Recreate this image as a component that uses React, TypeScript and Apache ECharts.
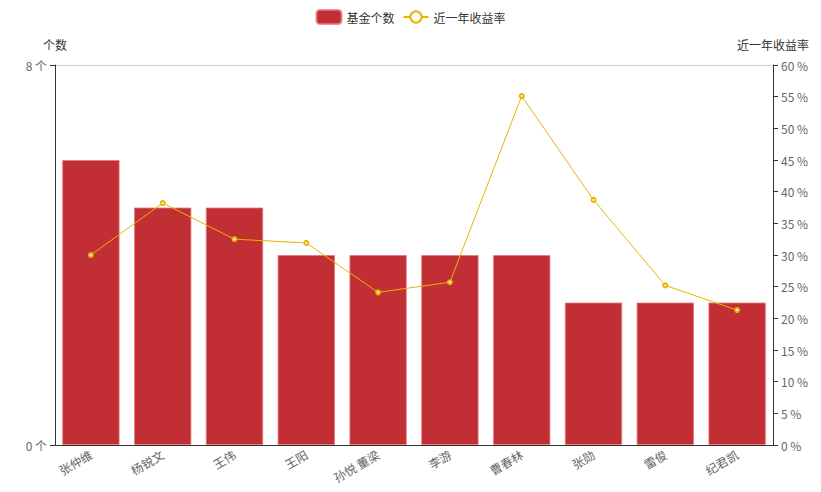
import React, { useEffect, useRef } from 'react';
import * as echarts from 'echarts';

const managers = ['张仲维', '杨锐文', '王伟', '王阳', '孙悦 董梁', '李游', '曹春林', '张勋', '雷俊', '纪君凯'];
const fundCounts = [6, 5, 5, 4, 4, 4, 4, 3, 3, 3];
const yearReturns = [30.0, 38.2, 32.5, 31.9, 24.1, 25.7, 55.1, 38.7, 25.2, 21.3];

const FONT = '"Noto Sans CJK SC", "Noto Sans", sans-serif';

const App: React.FC = () => {
  const chartRef = useRef<HTMLDivElement>(null);

  useEffect(() => {
    if (!chartRef.current) return;
    const chart = echarts.init(chartRef.current, undefined, { renderer: 'svg' });

    chart.setOption({
      animation: false,
      textStyle: { fontFamily: FONT },
      legend: {
        top: 4,
        left: 'center',
        data: ['基金个数', '近一年收益率'],
        textStyle: { color: '#333', fontSize: 12 }
      },
      grid: { left: 55, right: 48, top: 65, bottom: 47 },
      xAxis: {
        type: 'category',
        data: managers,
        axisLine: { lineStyle: { color: '#333' } },
        axisTick: { lineStyle: { color: '#333' } },
        axisLabel: { rotate: 30, color: '#666', fontSize: 12, interval: 0 }
      },
      yAxis: [
        {
          type: 'value',
          name: '个数',
          min: 0,
          max: 8,
          interval: 8,
          nameTextStyle: { color: '#333' },
          axisLine: { show: true, lineStyle: { color: '#333' } },
          axisTick: { show: true },
          axisLabel: { formatter: '{value} 个', color: '#666' },
          splitLine: { show: true, lineStyle: { color: '#ccc' } }
        },
        {
          type: 'value',
          name: '近一年收益率',
          min: 0,
          max: 60,
          interval: 5,
          nameTextStyle: { color: '#333' },
          axisLine: { show: true, lineStyle: { color: '#333' } },
          axisTick: { show: true },
          axisLabel: { formatter: '{value} %', color: '#666' },
          splitLine: { show: false }
        }
      ],
      series: [
        {
          name: '基金个数',
          type: 'bar',
          data: fundCounts,
          barCategoryGap: '20%',
          itemStyle: {
            color: '#c12e34',
            borderColor: 'rgba(230,120,125,0.8)',
            borderWidth: 1
          }
        },
        {
          name: '近一年收益率',
          type: 'line',
          yAxisIndex: 1,
          data: yearReturns,
          symbol: 'emptyCircle',
          symbolSize: 4,
          lineStyle: { color: '#e6b600', width: 1 },
          itemStyle: { color: '#e6b600' }
        }
      ]
    });

    return () => {
      chart.dispose();
    };
  }, []);

  return (
    <div
      ref={chartRef}
      style={{ position: 'absolute', left: 0, top: 0, width: 821, height: 492 }}
    />
  );
};

export default App;
